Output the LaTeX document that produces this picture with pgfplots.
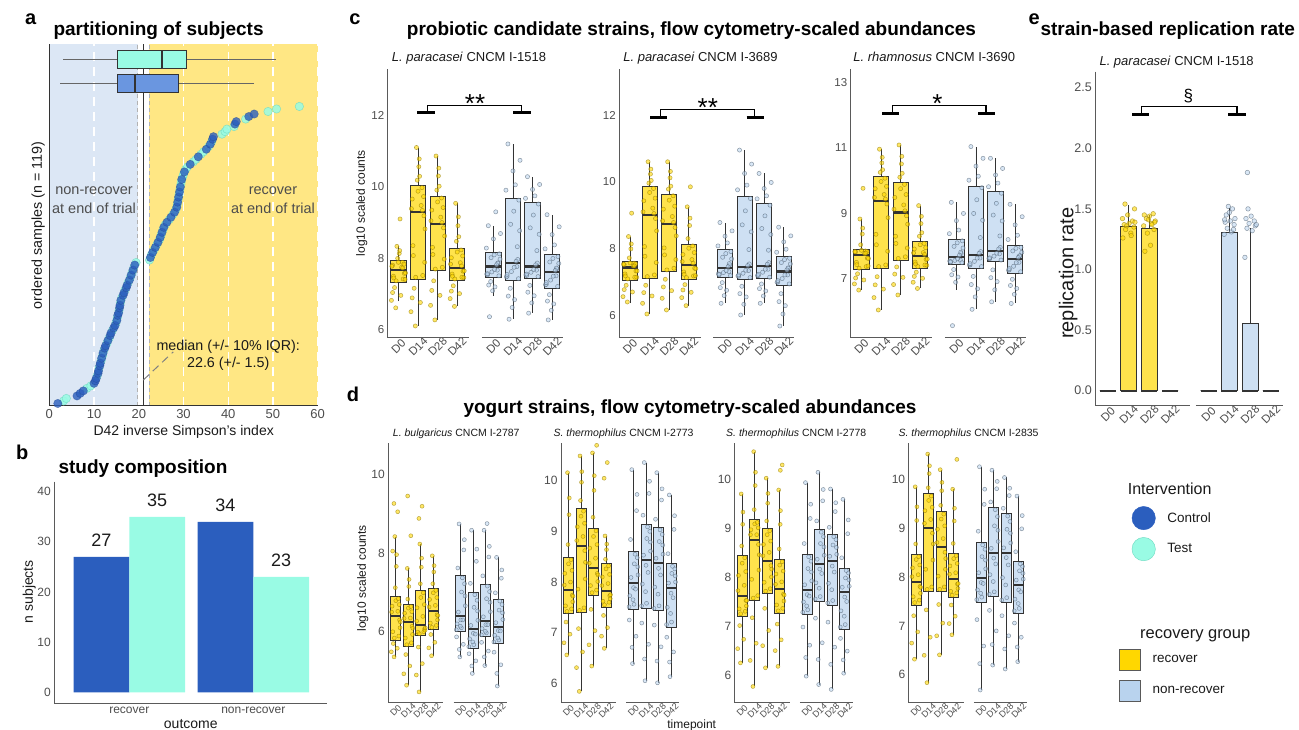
\documentclass[border=0pt]{standalone}
\usepackage{fontspec}
\setmainfont{Liberation Sans}
\usepackage{pgfplots}
\pgfplotsset{compat=1.18}
\usepgfplotslibrary{statistics}

\definecolor{ctrl}{HTML}{2B5EBE}
\definecolor{test}{HTML}{99FBE4}
\definecolor{testedge}{HTML}{6CD9C0}
\definecolor{gold}{HTML}{FFD700}
\definecolor{goldedge}{HTML}{8C7500}
\definecolor{lblue}{HTML}{B9D3EE}
\definecolor{lblueedge}{HTML}{4A5A6A}
\definecolor{bgblue}{HTML}{DCE7F5}
\definecolor{bgyellow}{HTML}{FFE784}
\definecolor{tickgrey}{HTML}{4D4D4D}
\definecolor{axgrey}{HTML}{5A5A5A}
\definecolor{boxline}{HTML}{333333}
\definecolor{ctrlbox}{HTML}{6A96E0}
\definecolor{txt}{HTML}{1A1A1A}

\newcommand{\fs}[1]{\fontsize{#1}{#1}\selectfont}
\newcommand{\fsl}[2]{\fontsize{#1}{#2}\selectfont}
\newcommand{\bx}[7]{\addplot[#1, boxplot/draw direction=y, boxplot prepared={draw position=#2, lower whisker=#3, lower quartile=#4, median=#5, upper quartile=#6, upper whisker=#7}] coordinates {};}

\pgfplotsset{
  base/.style={scale only axis, clip=false, anchor=south west,
    axis line style={draw=none}, major tick length=0pt,
    /pgf/number format/assume math mode=true,
    tick label style={text=tickgrey}},
  strain/.style={base, xmin=0.45, xmax=9.39,
    xtick={1,2,3,4,5.85,6.85,7.85,8.85},
    xticklabels={D0,D14,D28,D42,D0,D14,D28,D42},
    xticklabel style={yshift=-9pt, rotate=45, anchor=center, font=\fs{11.5}},
    yticklabel style={font=\fs{11.5}},
    boxplot/draw direction=y,
    boxplot/box extend=0.78, boxplot/whisker extend=0,
    boxplot/every median/.style={line width=2.2pt}},
  dstrain/.style={base, xmin=0.4, xmax=9.87,
    xtick={1,2,3,4,6.2,7.2,8.2,9.2},
    xticklabels={D0,D14,D28,D42,D0,D14,D28,D42},
    xticklabel style={yshift=-8pt, rotate=45, anchor=center, font=\fs{9}},
    yticklabel style={font=\fs{12}},
    boxplot/draw direction=y,
    boxplot/box extend=0.8, boxplot/whisker extend=0,
    boxplot/every median/.style={line width=2pt}},
  recbox/.style={fill=gold, fill opacity=0.7, draw=boxline, line width=0.9pt},
  nrbox/.style={fill=lblue, fill opacity=0.7, draw=boxline, line width=0.9pt},
  recpt/.style={only marks, mark=*, mark size=2.1pt, mark options={fill=gold, draw=goldedge, fill opacity=0.6, draw opacity=0.6, line width=0.5pt}},
  nrpt/.style={only marks, mark=*, mark size=2.1pt, mark options={fill=lblue, draw=lblueedge, fill opacity=0.55, draw opacity=0.6, line width=0.5pt}},
  axl/.style={axgrey, line width=1pt, forget plot},
  brk/.style={black, line width=1.2pt, forget plot},
  brkthick/.style={black, line width=2.7pt, forget plot},
}

\begin{document}
\begin{tikzpicture}
\useasboundingbox (0pt,0pt) rectangle (1299pt,729pt);

% ---------------- panel a ----------------
\begin{axis}[base, at={(49.3pt,323pt)}, width=268.4pt, height=361.7pt,
  xmin=0, xmax=60, ymin=0, ymax=143.7, xtick={0,10,...,60}, ytick=\empty,
  xticklabel style={font=\fs{13}},
  boxplot/whisker extend=0, boxplot/every median/.style={line width=2pt},
  boxplot/every whisker/.style={draw=gray!80!black, line width=0.8pt}]
\addplot[fill=bgblue, draw=none, forget plot] coordinates {(0,143.7) (19.75,143.7)} \closedcycle;
\addplot[fill=bgyellow, draw=none, forget plot] coordinates {(22.35,143.7) (60,143.7)} \closedcycle;
\addplot[white, line width=1.3pt, dash pattern=on 9pt off 6pt, forget plot] coordinates {(10,0) (10,143.7)};
\addplot[white, line width=1.3pt, dash pattern=on 9pt off 6pt, forget plot] coordinates {(20,0) (20,143.7)};
\addplot[white, line width=1.3pt, dash pattern=on 9pt off 6pt, forget plot] coordinates {(30,0) (30,143.7)};
\addplot[white, line width=1.3pt, dash pattern=on 9pt off 6pt, forget plot] coordinates {(40,0) (40,143.7)};
\addplot[white, line width=1.3pt, dash pattern=on 9pt off 6pt, forget plot] coordinates {(50,0) (50,143.7)};
\addplot[white, line width=1.3pt, dash pattern=on 9pt off 6pt, forget plot] coordinates {(60,0) (60,143.7)};
\addplot[gray!60, line width=0.8pt, dash pattern=on 4pt off 3pt, forget plot] coordinates {(19.75,0) (19.75,143.7)};
\addplot[gray!60, line width=0.8pt, dash pattern=on 4pt off 3pt, forget plot] coordinates {(22.35,0) (22.35,143.7)};
\addplot[black!80, line width=1pt, forget plot] coordinates {(21,0) (21,143.7)};
\addplot[fill=test, draw=boxline, line width=0.9pt, boxplot/draw direction=x,
  boxplot prepared={draw position=137.8, lower whisker=3.1, lower quartile=15.2, median=25.3, upper quartile=30.6, upper whisker=50.6, box extend=7.3}] coordinates {};
\addplot[fill=ctrlbox, draw=boxline, line width=0.9pt, boxplot/draw direction=x,
  boxplot prepared={draw position=128.1, lower whisker=2.5, lower quartile=15.2, median=19.2, upper quartile=28.95, upper whisker=45.8, box extend=7.3}] coordinates {};
% test points (value, rank)
\addplot[only marks, mark=*, mark size=4.2pt, mark options={fill=test, draw=testedge, fill opacity=0.85, draw opacity=0.7, line width=0.5pt}] coordinates {
(3.2,2)(3.8,3)(8.4,7)(9.3,8)(10.7,12)(11.1,15)(11.6,18)(11.9,20)(12.2,22)(12.9,25)(13.4,27)(14.1,30)(14.9,33)(15.2,35)(15.6,38)(15.9,41)(16.2,43)(16.9,46)(17.6,49)(18.1,51)(18.5,53)(18.9,55)(19.4,57)
(22.4,58)(22.8,60)(23.4,62)(24.0,64)(24.6,66)(25.0,68)(25.4,70)(25.9,72)(26.8,74)(27.6,76)(28.3,78)(28.6,80)(28.8,82)(29.0,84)(29.2,86)(29.4,88)(29.5,89)(29.8,91)(30.0,92)(30.5,94)(30.9,95)(32.2,97)(32.8,98)(33.9,100)(34.5,101)(35.6,103)(36.3,105)(38.6,108)(39.3,109)(39.7,110)(41.3,111)(43.9,114)(48.9,117)(50.8,118)(55.9,119)};
% control points
\addplot[only marks, mark=*, mark size=4.2pt, mark options={fill=ctrl, draw=ctrl!75!black, fill opacity=0.8, draw opacity=0.5, line width=0.5pt}] coordinates {
(1.9,1)(6.2,4)(6.9,5)(7.6,6)(10.0,9)(10.3,10)(10.5,11)(10.9,13)(11.0,14)(11.3,16)(11.4,17)(11.7,19)(12.0,21)(12.4,23)(12.6,24)(13.1,26)(13.6,28)(13.8,29)(14.4,31)(14.7,32)(15.1,34)(15.3,36)(15.5,37)(15.7,39)(15.8,40)(16.0,42)(16.5,44)(16.7,45)(17.2,47)(17.4,48)(17.9,50)(18.3,52)(18.7,54)(19.1,56)
(22.6,59)(23.1,61)(23.7,63)(24.3,65)(24.8,67)(25.2,69)(25.6,71)(26.3,73)(27.2,75)(28.0,77)(28.5,79)(28.7,81)(28.9,83)(29.1,85)(29.3,87)(29.6,90)(30.2,93)(31.5,96)(33.3,99)(35.1,102)(36.0,104)(36.5,106)(36.7,107)(41.5,112)(41.8,113)(44.6,115)(45.8,116)};
\addplot[gray, line width=1pt, dash pattern=on 8pt off 5pt, forget plot] coordinates {(21.0,10.3) (27.7,21.5)};
\addplot[black!80, line width=1pt, forget plot] coordinates {(0,143.7) (0,0) (60,0)};
\node[font=\fsl{14.5}{18.4}, text=tickgrey, align=center] at (axis cs:10,81.7) {non-recover\\at end of trial};
\node[font=\fsl{14.5}{18.4}, text=tickgrey, align=center] at (axis cs:50,81.7) {recover\\at end of trial};
\node[font=\fsl{14.3}{17.6}, text=txt, align=center] at (axis cs:40,20.1) {median (+/- 10\% IQR):\\22.6 (+/- 1.5)};
\end{axis}

% ---------------- panel b ----------------
\begin{axis}[base, at={(54.3pt,25.7pt)}, width=272.4pt, height=221.6pt,
  xmin=0.395, xmax=2.592, ymin=-2.2, ymax=42, xtick={1,2}, xticklabels={recover,non-recover},
  ytick={0,10,20,30,40}, tick label style={font=\fs{12}},
  every node near coord/.append style={font=\fs{18}, text=txt, anchor=base, yshift=10pt}]
\addplot[ybar, bar width=55.8pt, bar shift=0pt, fill=ctrl, draw=none, nodes near coords] coordinates {(0.775,27) (1.775,34)};
\addplot[ybar, bar width=55.8pt, bar shift=0pt, fill=test, draw=none, nodes near coords] coordinates {(1.225,35) (2.225,23)};
\addplot[axgrey, line width=1pt, forget plot] coordinates {(0.395,42) (0.395,-2.2) (2.592,-2.2)};
\end{axis}

% ---------------- panel c1 ----------------
\begin{axis}[strain, at={(387.7pt,391.3pt)}, width=175pt, height=268.4pt, ymin=5.76, ymax=13.31, ytick={6,8,10,12}]
\addplot[recpt] coordinates {
(0.70,7.80)(1.12,6.95)(0.92,8.33)(1.30,7.57)(0.80,7.17)(1.04,8.13)(1.24,7.41)(0.66,7.77)(1.00,7.88)(0.86,6.60)(1.20,7.88)(0.74,7.49)(1.08,9.10)(1.34,7.40)
(1.70,9.66)(2.12,6.75)(1.92,11.11)(2.30,9.19)(1.80,7.15)(2.04,10.57)(2.24,7.51)(1.66,9.39)(2.00,9.88)(1.86,6.09)(2.20,9.98)(1.74,8.35)(2.08,10.30)(2.34,7.88)
(2.70,9.35)(3.12,6.95)(2.92,10.87)(3.30,8.85)(2.80,7.36)(3.04,10.31)(3.24,7.74)(2.66,9.05)(3.00,9.58)(2.86,6.26)(3.20,9.69)(2.74,8.30)(3.08,10.02)(3.34,7.97)
(3.70,8.01)(4.12,7.00)(3.92,9.54)(4.30,7.63)(3.80,7.22)(4.04,8.91)(4.24,7.46)(3.66,7.83)(4.00,8.17)(3.86,6.64)(4.20,8.23)(3.74,7.55)(4.08,8.60)(4.34,7.45)
(0.76,7.44)(1.16,7.74)(0.64,6.81)(1.06,8.21)(1.28,7.83)(0.88,7.36)(1.36,7.58)(0.96,7.99)(1.22,7.72)(0.70,7.03)
(1.76,8.07)(2.16,9.48)(1.64,6.49)(2.06,10.79)(2.28,9.73)(1.88,7.46)(2.36,8.82)(1.96,10.19)(2.22,9.34)(1.70,6.88)
(2.76,8.10)(3.16,9.15)(2.64,6.67)(3.06,10.53)(3.28,9.42)(2.88,7.69)(3.36,8.62)(2.96,9.91)(3.22,9.00)(2.70,7.09)
(3.76,7.49)(4.16,7.87)(3.64,6.86)(4.06,9.16)(4.28,8.06)(3.88,7.41)(4.36,7.64)(3.96,8.47)(4.22,7.78)(3.70,7.07)};
\addplot[nrpt] coordinates {
(6.19,7.97)(5.93,7.19)(5.59,8.91)(6.05,7.66)(5.71,7.34)(5.85,8.54)(5.51,7.55)(6.09,7.86)(5.89,8.09)(5.65,6.35)(6.15,8.12)(5.77,7.61)(5.97,9.30)(5.55,7.53)
(7.19,8.77)(6.93,6.83)(6.59,11.21)(7.05,7.76)(6.71,7.15)(6.85,10.45)(6.51,7.47)(7.09,7.96)(6.89,9.32)(6.65,6.28)(7.15,9.63)(6.77,7.62)(6.97,10.06)(6.55,7.49)
(8.19,8.67)(7.93,6.94)(7.59,10.29)(8.05,7.66)(7.71,7.23)(7.85,9.93)(7.51,7.53)(8.09,7.86)(7.89,9.21)(7.65,6.45)(8.15,9.52)(7.77,7.60)(7.97,9.75)(7.55,7.51)
(9.19,7.85)(8.93,6.71)(8.59,9.22)(9.05,7.50)(8.71,6.97)(8.85,8.66)(8.51,7.25)(9.09,7.70)(8.89,7.99)(8.65,6.26)(9.15,8.04)(8.77,7.38)(8.97,8.37)(8.55,7.26)
(5.55,7.56)(6.07,7.86)(5.81,7.08)(6.21,8.69)(5.73,8.01)(6.13,7.50)(5.91,7.68)(5.49,8.28)(6.01,7.81)(5.61,7.24)
(6.55,7.54)(7.07,8.32)(6.81,6.61)(7.21,10.75)(6.73,8.95)(7.13,7.42)(6.91,7.74)(6.49,9.91)(7.01,7.91)(6.61,6.93)
(7.55,7.55)(8.07,8.21)(7.81,6.74)(8.21,10.07)(7.73,8.85)(8.13,7.48)(7.91,7.68)(7.49,9.68)(8.01,7.81)(7.61,7.04)
(8.55,7.31)(9.07,7.72)(8.81,6.53)(9.21,8.88)(8.73,7.89)(9.13,7.20)(8.91,7.49)(8.49,8.26)(9.01,7.65)(8.61,6.79)};
\bx{recbox}{1}{6.78}{7.31}{7.67}{7.93}{8.33}
\bx{recbox}{2}{6.09}{7.41}{9.29}{10.03}{11.11}
\bx{recbox}{3}{6.26}{7.64}{8.95}{9.74}{10.87}
\bx{recbox}{4}{6.64}{7.36}{7.73}{8.28}{9.54}
\bx{nrbox}{5.85}{6.92}{7.45}{7.76}{8.17}{8.91}
\bx{nrbox}{6.85}{6.28}{7.37}{7.86}{9.68}{11.21}
\bx{nrbox}{7.85}{6.45}{7.43}{7.76}{9.57}{10.29}
\bx{nrbox}{8.85}{6.26}{7.15}{7.60}{8.09}{9.22}
\addplot[axl] coordinates {(0.45,13.31) (0.45,5.76) (4.61,5.76)};
\addplot[axl] coordinates {(5.26,5.76) (9.39,5.76)};
\addplot[brk] coordinates {(2.48,12.09) (2.48,12.29) (7.30,12.29) (7.30,12.09)};
\addplot[brkthick] coordinates {(1.97,12.09) (2.87,12.09)};
\addplot[brkthick] coordinates {(6.87,12.09) (7.76,12.09)};
\node[font=\fs{26}] at (axis cs:4.91,12.34) {**};
\end{axis}

% ---------------- panel c2 ----------------
\begin{axis}[strain, at={(619.3pt,391.3pt)}, width=175pt, height=268.4pt, ymin=5.33, ymax=13.37, ytick={6,8,10,12}]
\addplot[recpt] coordinates {
(0.70,7.52)(1.12,6.70)(0.92,8.36)(1.30,7.33)(0.80,6.90)(1.04,7.99)(1.24,7.14)(0.66,7.53)(1.00,7.57)(0.86,6.40)(1.20,7.56)(0.74,7.24)(1.08,9.06)(1.34,7.14)
(1.70,9.43)(2.12,6.58)(1.92,10.60)(2.30,8.90)(1.80,6.90)(2.04,10.23)(2.24,7.21)(1.66,9.10)(2.00,9.68)(1.86,6.04)(2.20,9.80)(1.74,8.06)(2.08,10.04)(2.34,7.58)
(2.70,9.18)(3.12,6.74)(2.92,10.60)(3.30,8.63)(2.80,7.08)(3.04,10.12)(3.24,7.41)(2.66,8.83)(3.00,9.45)(2.86,6.16)(3.20,9.58)(2.74,8.02)(3.08,9.87)(3.34,7.67)
(3.70,7.82)(4.12,6.69)(3.92,9.25)(4.30,7.41)(3.80,6.92)(4.04,8.69)(4.24,7.18)(3.66,7.61)(4.00,8.01)(3.86,6.29)(4.20,8.08)(3.74,7.30)(4.08,9.85)(4.34,7.19)
(0.76,7.18)(1.16,7.48)(0.64,6.56)(1.06,8.14)(1.28,7.54)(0.88,7.09)(1.36,7.33)(0.96,7.72)(1.22,7.48)(0.70,6.77)
(1.76,7.77)(2.16,9.21)(1.64,6.36)(2.06,10.38)(2.28,9.51)(1.88,7.16)(2.36,8.53)(1.96,9.96)(2.22,9.05)(1.70,6.68)
(2.76,7.81)(3.16,8.96)(2.64,6.51)(3.06,10.31)(3.28,9.27)(2.88,7.36)(3.36,8.38)(2.96,9.78)(3.22,8.78)(2.70,6.85)
(3.76,7.23)(4.16,7.67)(3.64,6.53)(4.06,8.91)(4.28,7.88)(3.88,7.13)(4.36,7.40)(3.96,8.30)(4.22,7.56)(3.70,6.76)};
\addplot[nrpt] coordinates {
(6.19,7.69)(5.93,6.75)(5.59,8.78)(6.05,7.31)(5.71,6.98)(5.85,8.37)(5.51,7.24)(6.09,7.51)(5.89,7.85)(5.65,6.36)(6.15,7.91)(5.77,7.28)(5.97,8.17)(5.55,7.21)
(7.19,8.50)(6.93,6.55)(6.59,10.95)(7.05,7.34)(6.71,6.87)(6.85,10.25)(6.51,7.18)(7.09,7.54)(6.89,9.13)(6.65,6.01)(7.15,9.50)(6.77,7.26)(6.97,9.90)(6.55,7.17)
(8.19,8.42)(7.93,6.73)(7.59,10.25)(8.05,7.38)(7.71,6.94)(7.85,9.80)(7.51,7.19)(8.09,7.58)(7.89,8.98)(7.65,6.36)(8.15,9.30)(7.77,7.29)(7.97,9.58)(7.55,7.19)
(9.19,7.54)(8.93,6.29)(8.59,8.64)(9.05,7.21)(8.71,6.65)(8.85,8.20)(8.51,6.99)(9.09,7.41)(8.89,7.67)(8.65,5.68)(9.15,7.71)(8.77,7.10)(8.97,7.98)(8.55,7.00)
(5.55,7.23)(6.07,7.55)(5.81,6.59)(6.21,8.53)(5.73,7.74)(6.13,7.19)(5.91,7.34)(5.49,8.08)(6.01,7.46)(5.61,6.83)
(6.55,7.21)(7.07,7.97)(6.81,6.33)(7.21,10.53)(6.73,8.71)(7.13,7.13)(6.91,7.35)(6.49,9.76)(7.01,7.49)(6.61,6.65)
(7.55,7.23)(8.07,7.95)(7.81,6.58)(8.21,9.98)(7.73,8.60)(8.13,7.14)(7.91,7.38)(7.49,9.49)(8.01,7.53)(7.61,6.80)
(8.55,7.04)(9.07,7.42)(8.81,6.04)(9.21,8.38)(8.73,7.58)(9.13,6.94)(8.91,7.21)(8.49,7.89)(9.01,7.36)(8.61,6.41)};
\bx{recbox}{1}{6.36}{7.04}{7.43}{7.61}{8.36}
\bx{recbox}{2}{6.04}{7.11}{9.00}{9.85}{10.60}
\bx{recbox}{3}{6.16}{7.31}{8.73}{9.63}{10.60}
\bx{recbox}{4}{6.29}{7.08}{7.51}{8.13}{9.25}
\bx{nrbox}{5.85}{6.36}{7.14}{7.41}{7.96}{8.78}
\bx{nrbox}{6.85}{6.01}{7.08}{7.44}{9.55}{10.95}
\bx{nrbox}{7.85}{6.36}{7.09}{7.48}{9.35}{10.25}
\bx{nrbox}{8.85}{5.68}{6.89}{7.31}{7.76}{8.64}
\addplot[axl] coordinates {(0.45,13.37) (0.45,5.33) (4.61,5.33)};
\addplot[axl] coordinates {(5.26,5.33) (9.39,5.33)};
\addplot[brk] coordinates {(2.55,11.93) (2.55,12.17) (7.37,12.17) (7.37,11.93)};
\addplot[brkthick] coordinates {(2.03,11.93) (2.89,11.93)};
\addplot[brkthick] coordinates {(6.96,11.93) (7.82,11.93)};
\node[font=\fs{26}] at (axis cs:4.97,12.23) {**};
\end{axis}

% ---------------- panel c3 ----------------
\begin{axis}[strain, at={(850.7pt,391.3pt)}, width=175pt, height=268.4pt, ymin=5.18, ymax=13.41, ytick={7,9,11,13}]
\addplot[recpt] coordinates {
(0.70,7.81)(1.12,6.95)(0.92,8.82)(1.30,7.62)(0.80,7.14)(1.04,8.36)(1.24,7.36)(0.66,7.82)(1.00,7.86)(0.86,6.64)(1.20,7.84)(0.74,7.49)(1.08,9.76)(1.34,7.38)
(1.70,9.75)(2.12,6.67)(1.92,10.96)(2.30,9.28)(1.80,7.05)(2.04,10.54)(2.24,7.41)(1.66,9.48)(2.00,9.97)(1.86,6.03)(2.20,10.07)(1.74,8.35)(2.08,10.33)(2.34,7.83)
(2.70,9.48)(3.12,7.03)(2.92,11.09)(3.30,8.92)(2.80,7.35)(3.04,10.51)(3.24,7.66)(2.66,9.12)(3.00,9.75)(2.86,6.49)(3.20,9.88)(2.74,8.29)(3.08,10.22)(3.34,7.93)
(3.70,7.90)(4.12,7.00)(3.92,9.23)(4.30,7.58)(3.80,7.19)(4.04,8.68)(4.24,7.41)(3.66,7.78)(4.00,8.03)(3.86,6.69)(4.20,8.07)(3.74,7.50)(4.08,8.40)(4.34,7.40)
(0.76,7.42)(1.16,7.76)(0.64,6.83)(1.06,8.54)(1.28,7.82)(0.88,7.31)(1.36,7.61)(0.96,8.03)(1.22,7.77)(0.70,7.01)
(1.76,8.03)(2.16,9.57)(1.64,6.41)(2.06,10.71)(2.28,9.82)(1.88,7.36)(2.36,8.86)(1.96,10.25)(2.22,9.43)(1.70,6.80)
(2.76,8.07)(3.16,9.25)(2.64,6.81)(3.06,10.74)(3.28,9.57)(2.88,7.61)(3.36,8.66)(2.96,10.10)(3.22,9.07)(2.70,7.13)
(3.76,7.44)(4.16,7.79)(3.64,6.88)(4.06,8.90)(4.28,7.94)(3.88,7.36)(4.36,7.59)(3.96,8.29)(4.22,7.73)(3.70,7.06)};
\addplot[nrpt] coordinates {
(6.19,7.93)(5.93,7.04)(5.59,9.33)(6.05,7.56)(5.71,7.27)(5.85,8.77)(5.51,7.53)(6.09,7.76)(5.89,8.09)(5.65,5.55)(6.15,8.15)(5.77,7.55)(5.97,8.48)(5.55,7.49)
(7.19,8.78)(6.93,6.68)(6.59,11.04)(7.05,7.62)(6.71,7.06)(6.85,10.44)(6.51,7.41)(7.09,7.82)(6.89,9.41)(6.65,6.05)(7.15,9.78)(6.77,7.52)(6.97,10.13)(6.55,7.41)
(8.19,8.76)(7.93,6.90)(7.59,10.68)(8.05,7.75)(7.71,7.26)(7.85,10.17)(7.51,7.61)(8.09,7.95)(7.89,9.30)(7.65,6.28)(8.15,9.61)(7.77,7.68)(7.97,9.92)(7.55,7.60)
(9.19,7.80)(8.93,6.69)(8.59,9.27)(9.05,7.49)(8.71,6.97)(8.85,8.64)(8.51,7.25)(9.09,7.69)(8.89,7.92)(8.65,6.23)(9.15,7.95)(8.77,7.37)(8.97,8.32)(8.55,7.26)
(5.55,7.51)(6.07,7.80)(5.81,6.88)(6.21,8.99)(5.73,7.98)(6.13,7.48)(5.91,7.60)(5.49,8.37)(6.01,7.71)(5.61,7.11)
(6.55,7.45)(7.07,8.25)(6.81,6.43)(7.21,10.68)(6.73,8.99)(7.13,7.36)(6.91,7.62)(6.49,10.01)(7.01,7.77)(6.61,6.81)
(7.55,7.63)(8.07,8.30)(7.81,6.65)(8.21,10.37)(7.73,8.94)(8.13,7.56)(7.91,7.77)(7.49,9.81)(8.01,7.90)(7.61,7.02)
(8.55,7.30)(9.07,7.69)(8.81,6.51)(9.21,8.89)(8.73,7.84)(9.13,7.20)(8.91,7.48)(8.49,8.19)(9.01,7.64)(8.61,6.78)};
\bx{recbox}{1}{6.64}{7.26}{7.72}{7.89}{8.82}
\bx{recbox}{2}{6.03}{7.31}{9.38}{10.12}{10.96}
\bx{recbox}{3}{6.49}{7.56}{9.02}{9.93}{11.09}
\bx{recbox}{4}{6.69}{7.31}{7.68}{8.12}{9.23}
\bx{nrbox}{5.85}{6.64}{7.43}{7.66}{8.20}{9.33}
\bx{nrbox}{6.85}{6.05}{7.31}{7.72}{9.83}{11.04}
\bx{nrbox}{7.85}{6.28}{7.51}{7.85}{9.66}{10.68}
\bx{nrbox}{8.85}{6.23}{7.15}{7.59}{8.00}{9.27}
\addplot[axl] coordinates {(0.45,13.41) (0.45,5.18) (4.61,5.18)};
\addplot[axl] coordinates {(5.26,5.18) (9.39,5.18)};
\addplot[brk] coordinates {(2.58,12.06) (2.58,12.29) (7.36,12.29) (7.36,12.06)};
\addplot[brkthick] coordinates {(2.07,12.06) (2.94,12.06)};
\addplot[brkthick] coordinates {(6.97,12.06) (7.84,12.06)};
\node[font=\fs{26}] at (axis cs:4.88,12.35) {*};
\end{axis}

% ---------------- panel e ----------------
\begin{axis}[strain, at={(1095.3pt,323.3pt)}, width=188pt, height=334pt, xmin=0.39, xmax=9.45,
  ymin=-0.124, ymax=2.632, ytick={0,0.5,1,1.5,2,2.5}, yticklabels={0.0,0.5,1.0,1.5,2.0,2.5},
  yticklabel style={font=\fs{12.5}}, boxplot/box extend=0.77]
\bx{recbox}{1}{0}{0}{0}{0}{0}
\bx{recbox}{2}{0}{0}{0}{1.353}{1.53}
\bx{recbox}{3}{0}{0}{0}{1.34}{1.45}
\bx{recbox}{4}{0}{0}{0}{0}{0}
\bx{nrbox}{5.85}{0}{0}{0}{0}{0}
\bx{nrbox}{6.85}{0}{0}{0}{1.307}{1.51}
\bx{nrbox}{7.85}{0}{0}{0}{0.556}{1.34}
\bx{nrbox}{8.85}{0}{0}{0}{0}{0}
\addplot[recpt, mark size=2.3pt] coordinates {
(1.72,1.26)(2.10,1.30)(1.85,1.33)(2.25,1.35)(1.78,1.37)(2.02,1.38)(2.18,1.40)(1.70,1.42)(1.95,1.45)(2.28,1.50)(1.82,1.54)(2.12,1.28)(1.90,1.36)(2.30,1.39)
(2.78,1.15)(3.05,1.20)(2.90,1.30)(3.22,1.33)(2.72,1.36)(3.10,1.38)(3.28,1.40)(2.85,1.42)(3.00,1.44)(2.75,1.45)(3.18,1.46)(3.25,1.39)(2.95,1.41)(3.12,1.37)};
\addplot[nrpt, mark size=2.3pt] coordinates {
(6.60,1.29)(6.95,1.31)(6.75,1.34)(7.08,1.37)(6.65,1.39)(6.90,1.40)(7.12,1.42)(6.70,1.45)(6.85,1.47)(7.00,1.50)(6.80,1.52)(7.05,1.33)(6.62,1.41)
(7.60,1.10)(7.95,1.32)(7.70,1.34)(8.10,1.36)(7.80,1.38)(8.05,1.40)(7.65,1.42)(7.90,1.44)(7.75,1.50)(7.72,1.80)(8.15,1.37)};
\addplot[axl] coordinates {(0.39,2.632) (0.39,-0.124) (4.95,-0.124)};
\addplot[axl] coordinates {(5.24,-0.124) (9.45,-0.124)};
\addplot[brk] coordinates {(2.62,2.28) (2.62,2.343) (7.22,2.343) (7.22,2.28)};
\addplot[brkthick] coordinates {(2.16,2.28) (2.99,2.28)};
\addplot[brkthick] coordinates {(6.80,2.28) (7.64,2.28)};
\node[font=\fs{17}] at (axis cs:4.87,2.43) {\S};
\end{axis}

% ---------------- panel d1 ----------------
\begin{axis}[dstrain, at={(388.3pt,26.3pt)}, width=118.4pt, height=259.4pt, ymin=4.196, ymax=10.79, ytick={6,8,10}]
\addplot[recpt, mark size=2pt] coordinates {
(0.70,6.65)(1.12,5.58)(0.92,8.42)(1.30,6.30)(0.80,5.70)(1.04,7.66)(1.24,5.89)(0.66,6.50)(1.00,6.79)(0.86,5.36)(1.20,6.84)(1.34,6.10)(0.85,9.26)(1.15,9.05)(0.75,8.05)
(1.70,6.47)(2.12,5.13)(1.92,7.61)(2.30,6.14)(1.80,5.42)(2.04,7.15)(2.24,5.72)(1.66,6.34)(2.00,6.60)(1.86,4.64)(2.20,6.64)(2.34,5.93)(1.95,9.45)(2.20,8.44)
(2.70,6.61)(3.12,5.19)(2.92,8.23)(3.30,6.07)(2.80,5.61)(3.04,7.64)(3.24,6.00)(2.66,6.27)(3.00,6.87)(2.86,4.47)(3.20,6.99)(3.34,6.04)(2.85,8.88)(3.10,9.19)
(3.70,6.82)(4.12,5.73)(3.92,7.93)(4.30,6.43)(3.80,5.93)(4.04,7.52)(4.24,6.16)(3.66,6.63)(4.00,6.99)(3.86,5.39)(4.20,7.05)(4.34,6.30)
(0.76,6.00)(1.16,6.52)(0.64,5.49)(1.06,7.96)(1.28,6.69)(0.88,5.84)(1.36,6.25)(0.96,7.12)
(1.76,5.84)(2.16,6.35)(1.64,4.93)(2.06,7.33)(2.28,6.51)(1.88,5.67)(2.36,6.09)(1.96,6.83)
(2.76,5.99)(3.16,6.39)(2.64,4.90)(3.06,7.87)(3.28,6.69)(2.88,5.95)(3.36,6.10)(2.96,7.22)
(3.76,6.22)(4.16,6.67)(3.64,5.59)(4.06,7.68)(4.28,6.87)(3.88,6.11)(4.36,6.41)(3.96,7.22)};
\addplot[nrpt, mark size=2pt] coordinates {
(6.54,6.91)(6.40,5.68)(6.06,8.74)(6.20,6.30)(5.86,5.87)(6.44,8.08)(6.24,6.10)(6.00,6.50)(6.50,7.22)(6.12,5.36)(6.32,7.37)(5.90,6.20)
(7.54,6.53)(7.40,5.26)(7.06,8.58)(7.20,5.96)(6.86,5.44)(7.44,7.79)(7.24,5.67)(7.00,6.16)(7.50,6.80)(7.12,4.94)(7.32,6.94)(6.90,5.82)
(8.54,6.75)(8.40,5.51)(8.06,8.58)(8.20,6.18)(7.86,5.73)(8.44,7.90)(8.24,5.97)(8.00,6.38)(8.50,7.02)(8.12,5.14)(8.32,7.16)(7.90,6.08)(8.30,8.75)
(9.54,6.48)(9.40,5.16)(9.06,7.89)(9.20,6.03)(8.86,5.48)(9.44,7.36)(9.24,5.79)(9.00,6.23)(9.50,6.69)(9.12,4.62)(9.32,6.78)(8.90,5.91)
(6.16,6.14)(6.56,6.66)(6.08,5.55)(6.48,8.34)(6.26,7.01)(5.84,6.05)(6.36,6.30)(5.96,7.62)
(7.16,5.74)(7.56,6.29)(7.08,5.13)(7.48,8.10)(7.26,6.62)(6.84,5.62)(7.36,5.94)(6.96,7.23)
(8.16,6.01)(8.56,6.51)(8.08,5.36)(8.48,8.17)(8.26,6.84)(7.84,5.92)(8.36,6.18)(7.96,7.42)
(9.16,5.84)(9.56,6.31)(9.08,4.94)(9.48,7.57)(9.26,6.55)(8.84,5.74)(9.36,6.02)(8.96,6.99)};
\bx{recbox}{1}{5.36}{5.79}{6.40}{6.89}{8.42}
\bx{recbox}{2}{4.64}{5.62}{6.24}{6.69}{7.61}
\bx{recbox}{3}{4.47}{5.90}{6.17}{7.04}{8.23}
\bx{recbox}{4}{5.39}{6.06}{6.53}{7.10}{7.93}
\bx{nrbox}{6.2}{5.36}{6.00}{6.40}{7.42}{8.74}
\bx{nrbox}{7.2}{4.94}{5.57}{6.06}{6.99}{8.58}
\bx{nrbox}{8.2}{5.14}{5.87}{6.28}{7.21}{8.58}
\bx{nrbox}{9.2}{4.62}{5.69}{6.13}{6.83}{7.89}
\addplot[axl] coordinates {(0.4,10.79) (0.4,4.196) (4.8,4.196)};
\addplot[axl] coordinates {(5.62,4.196) (9.87,4.196)};
\end{axis}

% ---------------- panel d2 ----------------
\begin{axis}[dstrain, at={(561pt,26.3pt)}, width=118.4pt, height=259.4pt, ymin=5.617, ymax=10.74, ytick={6,7,8,9,10}]
\addplot[recpt, mark size=2pt] coordinates {
(0.70,8.17)(1.12,6.97)(0.92,10.16)(1.30,7.74)(0.80,7.21)(1.04,9.33)(1.24,7.47)(0.66,7.94)(1.00,8.36)(0.86,6.56)(1.20,8.44)(1.34,7.61)
(1.70,9.09)(2.12,6.62)(1.92,10.49)(2.30,8.62)(1.80,7.08)(2.04,9.97)(2.24,7.49)(1.66,8.82)(2.00,9.30)(1.86,5.84)(2.20,9.40)(2.34,8.06)
(2.70,8.67)(3.12,7.04)(2.92,10.55)(3.30,8.17)(2.80,7.46)(3.04,9.81)(3.24,7.84)(2.66,8.37)(3.00,8.90)(2.86,6.34)(3.20,9.01)(3.34,8.01)(3.25,10.70)
(3.70,8.10)(4.12,7.10)(3.92,8.91)(4.30,7.73)(3.80,7.34)(4.04,8.64)(4.24,7.60)(3.66,7.93)(4.00,8.26)(3.86,6.69)(4.20,8.32)(4.34,7.67)(4.10,10.36)(3.85,10.05)
(0.76,7.53)(1.16,8.00)(0.64,6.80)(1.06,9.66)(1.28,8.23)(0.88,7.42)(1.36,7.72)(0.96,8.74)
(1.76,7.86)(2.16,8.90)(1.64,6.31)(2.06,10.18)(2.28,9.16)(1.88,7.44)(2.36,8.39)(1.96,9.61)
(2.76,7.93)(3.16,8.47)(2.64,6.76)(3.06,10.10)(3.28,8.74)(2.88,7.79)(3.36,8.14)(2.96,9.28)
(3.76,7.62)(4.16,7.97)(3.64,6.93)(4.06,8.75)(4.28,8.15)(3.88,7.55)(4.36,7.75)(3.96,8.45)};
\addplot[nrpt, mark size=2pt] coordinates {
(6.54,8.30)(6.40,6.93)(6.06,10.22)(6.20,7.89)(5.86,7.25)(6.44,9.41)(6.24,7.56)(6.00,8.09)(6.50,8.48)(6.12,6.39)(6.32,8.55)(5.90,7.73)
(7.54,8.79)(7.40,6.77)(7.06,10.36)(7.20,8.33)(6.86,7.19)(7.44,9.75)(7.24,7.58)(7.00,8.53)(7.50,9.00)(7.12,6.05)(7.32,9.09)(6.90,7.96)
(8.54,8.73)(8.40,6.72)(8.06,10.16)(8.20,8.27)(7.86,7.15)(8.44,9.62)(8.24,7.53)(8.00,8.47)(8.50,8.94)(8.12,6.01)(8.32,9.03)(7.90,7.90)
(9.54,8.12)(9.40,6.62)(9.06,9.72)(9.20,7.78)(8.86,6.91)(9.44,9.04)(9.24,7.21)(9.00,7.98)(9.50,8.26)(9.12,6.13)(9.32,8.31)(8.90,7.50)
(6.16,7.65)(6.56,8.14)(6.08,6.71)(6.48,9.73)(6.26,8.36)(5.84,7.51)(6.36,7.86)(5.96,8.84)
(7.16,7.81)(7.56,8.61)(7.08,6.48)(7.48,9.99)(7.26,8.86)(6.84,7.53)(7.36,8.19)(6.96,9.32)
(8.16,7.76)(8.56,8.55)(8.08,6.44)(8.48,9.84)(8.26,8.80)(7.84,7.48)(8.36,8.14)(7.96,9.24)
(9.16,7.38)(9.56,8.00)(9.08,6.42)(9.48,9.31)(9.26,8.17)(8.84,7.16)(9.36,7.69)(8.96,8.56)};
\bx{recbox}{1}{6.56}{7.37}{7.84}{8.49}{10.16}
\bx{recbox}{2}{5.84}{7.39}{8.72}{9.45}{10.49}
\bx{recbox}{3}{6.34}{7.74}{8.27}{9.06}{10.55}
\bx{recbox}{4}{6.69}{7.50}{7.83}{8.37}{8.91}
\bx{nrbox}{6.2}{6.39}{7.46}{7.99}{8.60}{10.22}
\bx{nrbox}{7.2}{6.05}{7.48}{8.43}{9.14}{10.36}
\bx{nrbox}{8.2}{6.01}{7.43}{8.37}{9.08}{10.16}
\bx{nrbox}{9.2}{6.13}{7.11}{7.88}{8.36}{9.72}
\addplot[axl] coordinates {(0.4,10.74) (0.4,5.617) (4.8,5.617)};
\addplot[axl] coordinates {(5.62,5.617) (9.87,5.617)};
\end{axis}

% ---------------- panel d3 ----------------
\begin{axis}[dstrain, at={(734.7pt,26.3pt)}, width=118.4pt, height=259.4pt, ymin=5.45, ymax=10.73, ytick={6,7,8,9,10}]
\addplot[recpt, mark size=2pt] coordinates {
(0.70,8.04)(1.12,6.74)(0.92,9.70)(1.30,7.53)(0.80,7.02)(1.04,9.08)(1.24,7.31)(0.66,7.73)(1.00,8.29)(0.86,6.26)(1.20,8.40)(1.34,7.42)
(1.70,8.97)(2.12,6.66)(1.92,10.56)(2.30,8.67)(1.80,7.18)(2.04,9.87)(2.24,7.63)(1.66,8.87)(2.00,9.09)(1.86,5.78)(2.20,9.12)(2.34,8.15)
(2.70,8.67)(3.12,6.92)(2.92,10.02)(3.30,8.24)(2.80,7.37)(3.04,9.51)(3.24,7.77)(2.66,8.44)(3.00,8.87)(2.86,6.16)(3.20,8.95)(3.34,8.01)
(3.70,8.07)(4.12,6.73)(3.92,9.78)(4.30,7.66)(3.80,7.05)(4.04,9.08)(4.24,7.37)(3.66,7.86)(4.00,8.25)(3.86,6.19)(4.20,8.32)(4.34,7.52)(4.20,10.29)(4.05,10.18)
(0.76,7.36)(1.16,7.84)(0.64,6.55)(1.06,9.33)(1.28,8.12)(0.88,7.26)(1.36,7.53)(0.96,8.64)
(1.76,7.96)(2.16,8.87)(1.64,6.31)(2.06,10.14)(2.28,9.01)(1.88,7.58)(2.36,8.46)(1.96,9.38)
(2.76,7.90)(3.16,8.51)(2.64,6.61)(3.06,9.71)(3.28,8.74)(2.88,7.72)(3.36,8.17)(2.96,9.15)
(3.76,7.44)(4.16,7.91)(3.64,6.51)(4.06,9.36)(4.28,8.13)(3.88,7.32)(4.36,7.64)(3.96,8.58)};
\addplot[nrpt, mark size=2pt] coordinates {
(6.54,8.11)(6.40,6.62)(6.06,9.93)(6.20,7.65)(5.86,6.99)(6.44,9.20)(6.24,7.34)(6.00,7.85)(6.50,8.33)(6.12,5.99)(6.32,8.42)(5.90,7.50)
(7.54,8.62)(7.40,6.67)(7.06,10.14)(7.20,8.17)(6.86,7.17)(7.44,9.56)(7.24,7.61)(7.00,8.37)(7.50,8.83)(7.12,5.82)(7.32,8.92)(6.90,7.89)
(8.54,8.61)(8.40,6.58)(8.06,9.80)(8.20,8.23)(7.86,7.09)(8.44,9.34)(8.24,7.53)(8.00,8.43)(8.50,8.77)(8.12,5.72)(8.32,8.83)(7.90,7.88)
(9.54,7.95)(9.40,6.50)(9.06,9.59)(9.20,7.60)(8.86,6.76)(9.44,8.89)(9.24,7.04)(9.00,7.80)(9.50,8.09)(9.12,6.05)(9.32,8.14)(8.90,7.32)
(6.16,7.42)(6.56,7.93)(6.08,6.37)(6.48,9.49)(6.26,8.18)(5.84,7.29)(6.36,7.62)(5.96,8.69)
(7.16,7.78)(7.56,8.45)(7.08,6.33)(7.48,9.79)(7.26,8.69)(6.84,7.56)(7.36,8.08)(6.96,9.15)
(8.16,7.75)(8.56,8.47)(8.08,6.23)(8.48,9.52)(8.26,8.66)(7.84,7.48)(8.36,8.11)(7.96,9.02)
(9.16,7.21)(9.56,7.82)(9.08,6.32)(9.48,9.17)(9.26,7.99)(8.84,6.99)(9.36,7.51)(8.96,8.40)};
\bx{recbox}{1}{6.26}{7.21}{7.63}{8.45}{9.70}
\bx{recbox}{2}{5.78}{7.53}{8.77}{9.17}{10.56}
\bx{recbox}{3}{6.16}{7.67}{8.34}{9.00}{10.02}
\bx{recbox}{4}{6.19}{7.27}{7.76}{8.37}{9.78}
\bx{nrbox}{6.2}{5.99}{7.24}{7.75}{8.47}{9.93}
\bx{nrbox}{7.2}{5.82}{7.51}{8.27}{8.97}{10.14}
\bx{nrbox}{8.2}{5.72}{7.43}{8.33}{8.88}{9.80}
\bx{nrbox}{9.2}{6.05}{6.94}{7.70}{8.19}{9.59}
\addplot[axl] coordinates {(0.4,10.73) (0.4,5.45) (4.8,5.45)};
\addplot[axl] coordinates {(5.62,5.45) (9.87,5.45)};
\end{axis}

% ---------------- panel d4 ----------------
\begin{axis}[dstrain, at={(908.7pt,26.3pt)}, width=118.4pt, height=259.4pt, ymin=5.43, ymax=10.74, ytick={6,7,8,9,10}]
\addplot[recpt, mark size=2pt] coordinates {
(0.70,8.19)(1.12,6.88)(0.92,9.85)(1.30,7.81)(0.80,7.21)(1.04,9.16)(1.24,7.53)(0.66,8.01)(1.00,8.36)(0.86,6.32)(1.20,8.42)(1.34,7.67)
(1.70,9.36)(2.12,6.77)(1.92,10.52)(2.30,8.90)(1.80,7.33)(2.04,10.12)(2.24,7.80)(1.66,9.10)(2.00,9.57)(1.86,5.84)(2.20,9.66)(2.34,8.35)
(2.70,8.98)(3.12,7.06)(2.92,10.20)(3.30,8.51)(2.80,7.44)(3.04,9.77)(3.24,7.80)(2.66,8.71)(3.00,9.19)(2.86,6.41)(3.20,9.29)(3.34,8.16)
(3.70,8.23)(4.12,7.20)(3.92,9.80)(4.30,7.86)(3.80,7.43)(4.04,9.15)(4.24,7.68)(3.66,8.06)(4.00,8.38)(3.86,6.82)(4.20,8.44)(4.34,7.77)(4.25,10.41)
(0.76,7.60)(1.16,8.05)(0.64,6.65)(1.06,9.44)(1.28,8.25)(0.88,7.48)(1.36,7.79)(0.96,8.68)
(1.76,8.16)(2.16,9.18)(1.64,6.40)(2.06,10.28)(2.28,9.43)(1.88,7.75)(2.36,8.68)(1.96,9.83)
(2.76,8.02)(3.16,8.79)(2.64,6.80)(3.06,9.94)(3.28,9.05)(2.88,7.75)(3.36,8.38)(2.96,9.47)
(3.76,7.71)(4.16,8.09)(3.64,7.05)(4.06,9.41)(4.28,8.28)(3.88,7.63)(4.36,7.87)(3.96,8.69)};
\addplot[nrpt, mark size=2pt] coordinates {
(6.54,8.35)(6.40,6.59)(6.06,10.26)(6.20,7.89)(5.86,7.13)(6.44,9.49)(6.24,7.59)(6.00,8.09)(6.50,8.57)(6.12,5.69)(6.32,8.66)(5.90,7.74)
(7.54,8.96)(7.40,6.90)(7.06,10.19)(7.20,8.39)(6.86,7.32)(7.44,9.81)(7.24,7.70)(7.00,8.59)(7.50,9.24)(7.12,6.20)(7.32,9.38)(6.90,8.05)
(8.54,8.90)(8.40,6.80)(8.06,10.04)(8.20,8.40)(7.86,7.21)(8.44,9.67)(8.24,7.58)(8.00,8.60)(8.50,9.14)(8.12,6.12)(8.32,9.25)(7.90,7.99)
(9.54,8.08)(9.40,6.77)(9.06,9.66)(9.20,7.74)(8.86,7.06)(9.44,8.99)(9.24,7.36)(9.00,7.94)(9.50,8.22)(9.12,6.27)(9.32,8.27)(8.90,7.55)
(6.16,7.67)(6.56,8.17)(6.08,6.23)(6.48,9.80)(6.26,8.42)(5.84,7.54)(6.36,7.87)(5.96,8.94)
(7.16,7.91)(7.56,8.73)(7.08,6.62)(7.48,9.96)(7.26,9.05)(6.84,7.65)(7.36,8.27)(6.96,9.54)
(8.16,7.84)(8.56,8.70)(8.08,6.53)(8.48,9.82)(8.26,8.98)(7.84,7.53)(8.36,8.25)(7.96,9.41)
(9.16,7.46)(9.56,7.96)(9.08,6.57)(9.48,9.26)(9.26,8.13)(8.84,7.31)(9.36,7.70)(8.96,8.52)};
\bx{recbox}{1}{6.32}{7.43}{7.91}{8.47}{9.85}
\bx{recbox}{2}{5.84}{7.70}{9.00}{9.71}{10.52}
\bx{recbox}{3}{6.41}{7.70}{8.61}{9.34}{10.20}
\bx{recbox}{4}{6.82}{7.58}{7.96}{8.49}{9.80}
\bx{nrbox}{6.2}{5.69}{7.49}{7.99}{8.71}{10.26}
\bx{nrbox}{7.2}{6.20}{7.60}{8.49}{9.43}{10.19}
\bx{nrbox}{8.2}{6.12}{7.48}{8.50}{9.30}{10.04}
\bx{nrbox}{9.2}{6.27}{7.26}{7.84}{8.32}{9.66}
\addplot[axl] coordinates {(0.4,10.74) (0.4,5.43) (4.8,5.43)};
\addplot[axl] coordinates {(5.62,5.43) (9.87,5.43)};
\end{axis}

% ---------------- legends ----------------
\begin{axis}[at={(1131.6pt,223pt)}, anchor=north west, scale only axis, width=5pt, height=5pt, hide axis,
  xmin=0, xmax=1, ymin=0, ymax=1,
  legend style={at={(0,1)}, anchor=north west, draw=none, fill=none, inner sep=0pt,
    row sep=7.2pt, column sep=11.7pt, font=\fs{13.5}, text=txt, nodes={inner sep=0pt}},
  legend cell align=left]
\addlegendimage{legend image code/.code={\draw[fill=ctrl, draw=ctrl] (11.7pt,0pt) circle[radius=11.7pt];}}
\addlegendentry{Control}
\addlegendimage{legend image code/.code={\draw[fill=test, draw=testedge] (11.7pt,0pt) circle[radius=11.7pt];}}
\addlegendentry{Test}
\end{axis}
\begin{axis}[at={(1118.3pt,80.7pt)}, anchor=north west, scale only axis, width=5pt, height=5pt, hide axis,
  xmin=0, xmax=1, ymin=0, ymax=1,
  legend style={at={(0,1)}, anchor=north west, draw=none, fill=none, inner sep=0pt,
    row sep=9.7pt, column sep=12.4pt, font=\fs{13.5}, text=txt, nodes={inner sep=0pt}},
  legend cell align=left]
\addlegendimage{legend image code/.code={\draw[fill=gold, draw=gray!70!black, line width=0.8pt] (0pt,-10.5pt) rectangle (21pt,10.5pt);}}
\addlegendentry{recover}
\addlegendimage{legend image code/.code={\draw[fill=lblue, draw=gray!70!black, line width=0.8pt] (0pt,-10.5pt) rectangle (21pt,10.5pt);}}
\addlegendentry{non-recover}
\end{axis}

% ---------------- texts ----------------
\node[anchor=base west, font=\bfseries\fs{20}] at (21.7pt,704pt) {a};
\node[anchor=base west, font=\bfseries\fs{19}] at (50pt,693.3pt) {partitioning of subjects};
\node[anchor=base west, font=\bfseries\fs{20}] at (12.7pt,269pt) {b};
\node[anchor=base west, font=\bfseries\fs{19}] at (55pt,255.7pt) {study composition};
\node[anchor=base west, font=\bfseries\fs{20}] at (345.8pt,704pt) {c};
\node[anchor=base, font=\bfseries\fs{19}] at (691.5pt,693.3pt) {probiotic candidate strains, flow cytometry-scaled abundances};
\node[anchor=base west, font=\bfseries\fs{20}] at (343.3pt,327.3pt) {d};
\node[anchor=base, font=\bfseries\fs{19}] at (690pt,315.7pt) {yogurt strains, flow cytometry-scaled abundances};
\node[anchor=base west, font=\bfseries\fs{20}] at (1025pt,704.5pt) {e};
\node[anchor=base west, font=\bfseries\fs{19}] at (1037pt,693.3pt) {strain-based replication rate};

\node[anchor=base west, font=\fs{13}, text=txt] at (388.3pt,667.6pt) {\textit{L. paracasei} CNCM I-1518};
\node[anchor=base west, font=\fs{13}, text=txt] at (619.8pt,667.6pt) {\textit{L. paracasei} CNCM I-3689};
\node[anchor=base west, font=\fs{13}, text=txt] at (849.8pt,667.6pt) {\textit{L. rhamnosus} CNCM I-3690};
\node[anchor=base west, font=\fs{13}, text=txt] at (1096pt,663.6pt) {\textit{L. paracasei} CNCM I-1518};
\node[anchor=base west, font=\fs{10.5}, text=txt] at (389.4pt,292.5pt) {\textit{L. bulgaricus} CNCM I-2787};
\node[anchor=base west, font=\fs{10.5}, text=txt] at (550pt,292.5pt) {\textit{S. thermophilus} CNCM I-2773};
\node[anchor=base west, font=\fs{10.5}, text=txt] at (722.7pt,292.5pt) {\textit{S. thermophilus} CNCM I-2778};
\node[anchor=base west, font=\fs{10.5}, text=txt] at (895pt,292.5pt) {\textit{S. thermophilus} CNCM I-2835};

\node[font=\fs{14}, text=txt] at (183.7pt,297.3pt) {D42 inverse Simpson's index};
\node[font=\fs{14.3}, text=txt, rotate=90] at (38.3pt,503.5pt) {ordered samples (n = 119)};
\node[font=\fs{14}, text=txt] at (190.8pt,5pt) {outcome};
\node[font=\fs{14}, text=txt, rotate=90] at (29.3pt,137.3pt) {n subjects};
\node[font=\fs{12}, text=txt, rotate=90] at (361.7pt,525.7pt) {log10 scaled counts};
\node[font=\fs{12}, text=txt, rotate=90] at (362.7pt,150.7pt) {log10 scaled counts};
\node[font=\fs{12}, text=txt] at (691.7pt,4pt) {timepoint};
\node[font=\fs{20}, text=txt, rotate=90] at (1068.3pt,455.7pt) {replication rate};

\node[anchor=base west, font=\fs{16}, text=txt] at (1124.3pt,234pt) {Intervention};
\node[anchor=base west, font=\fs{16.5}, text=txt] at (1136.7pt,90.8pt) {recovery group};
\end{tikzpicture}
\end{document}
